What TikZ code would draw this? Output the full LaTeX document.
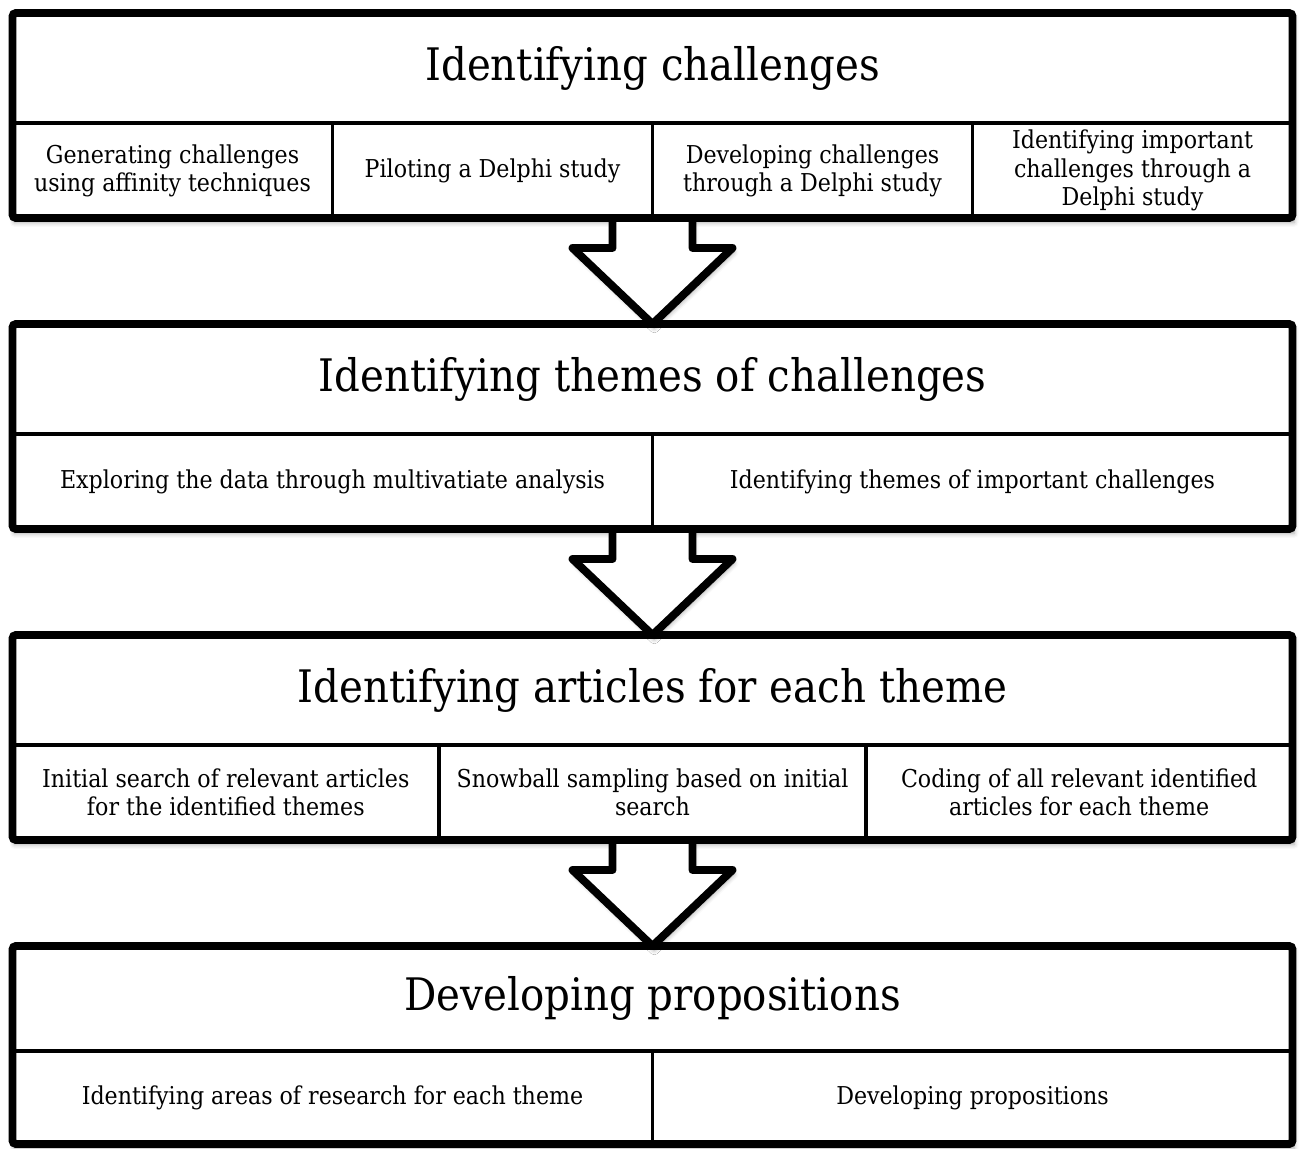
\documentclass[tikz,border=0pt]{standalone}
\usepackage{fontspec}
\setmainfont{DejaVu Serif Condensed}
\usetikzlibrary{positioning,fit,calc,backgrounds,shadows.blur}

\begin{document}
\begin{tikzpicture}[
    cell/.style={draw, line width=2.2pt, outer sep=0pt, inner sep=0pt, minimum height=1.9cm, align=center, font=\fontsize{14}{16}\selectfont},
    head/.style={draw, line width=2.2pt, outer sep=0pt, inner sep=0pt, minimum width=25.6cm, minimum height=2.2cm, font=\fontsize{25.5}{30}\selectfont},
    frame/.style={draw, line width=4.5pt, rounded corners=2pt, inner sep=0pt, outer sep=0pt},
    shade/.style={fill=white, blur shadow={shadow xshift=1pt, shadow yshift=-2.5pt, shadow blur radius=2.5pt, shadow opacity=35}},
    blkarrow/.style={draw, line width=4.5pt, line join=round, shade}
  ]
  \useasboundingbox (0,0) rectangle (26,-22.98);

  % block 1
  \node[head] (t1) at (13.05,-1.36) {Identifying challenges};
  \node[cell, minimum width=6.4cm, below right=0pt and 0pt of t1.south west] (s11) {Generating challenges\\using affinity techniques};
  \node[cell, minimum width=6.4cm, right=0pt of s11] (s12) {Piloting a Delphi study};
  \node[cell, minimum width=6.4cm, right=0pt of s12] (s13) {Developing challenges\\through a Delphi study};
  \node[cell, minimum width=6.4cm, right=0pt of s13] (s14) {Identifying important\\challenges through a\\Delphi study};
  \node[frame, fit=(t1)(s14)] (b1) {};

  % block 2
  \node[head, below=2.12cm of b1] (t2) {Identifying themes of challenges};
  \node[cell, minimum width=12.8cm, below right=0pt and 0pt of t2.south west] (s21) {Exploring the data through multivatiate analysis};
  \node[cell, minimum width=12.8cm, right=0pt of s21] (s22) {Identifying themes of important challenges};
  \node[frame, fit=(t2)(s22)] (b2) {};

  % block 3
  \node[head, below=2.12cm of b2] (t3) {Identifying articles for each theme};
  \node[cell, minimum width=8.533cm, below right=0pt and 0pt of t3.south west] (s31) {Initial search of relevant articles\\for the identified themes};
  \node[cell, minimum width=8.533cm, right=0pt of s31] (s32) {Snowball sampling based on initial\\search};
  \node[cell, minimum width=8.533cm, right=0pt of s32] (s33) {Coding of all relevant identified\\articles for each theme};
  \node[frame, fit=(t3)(s33)] (b3) {};

  % block 4 (cut short at the bottom)
  \node[head, minimum height=2.1cm, below=2.12cm of b3] (t4) {Developing propositions};
  \node[cell, minimum height=1.86cm, minimum width=12.8cm, below right=0pt and 0pt of t4.south west] (s41) {Identifying areas of research for each theme};
  \node[cell, minimum height=1.86cm, minimum width=12.8cm, right=0pt of s41] (s42) {Developing propositions};
  \node[frame, fit=(t4)(s42)] (b4) {};

  % shadows and block arrows
  \begin{scope}[on background layer]
    \foreach \b in {b1,b2,b3,b4}
      \fill[shade] (\b.north west) rectangle (\b.south east);
    \foreach \a/\b in {b1/b2,b2/b3,b3/b4}
      \draw[blkarrow] ($(\a.south)+(-0.8,0)$) |- ($(\a.south)+(-1.6,-0.6)$) -- (\b.north)
        -- ($(\a.south)+(1.6,-0.6)$) -| ($(\a.south)+(0.8,0)$);
  \end{scope}
\end{tikzpicture}
\end{document}
